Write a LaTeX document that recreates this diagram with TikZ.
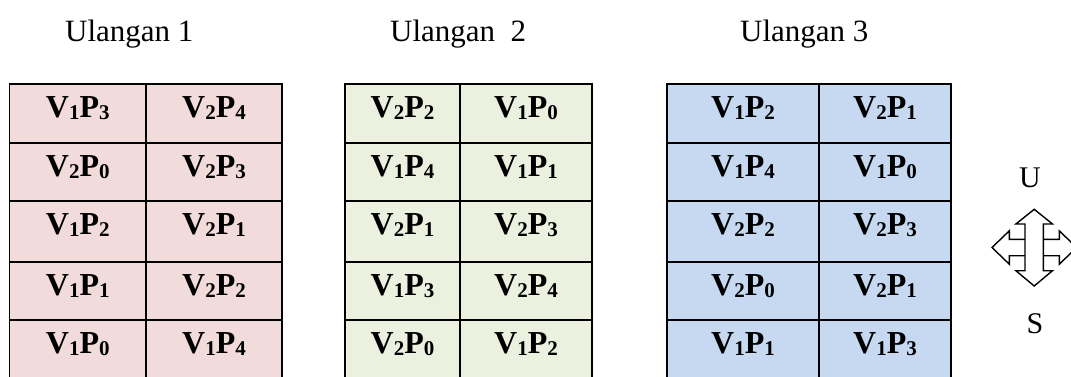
\documentclass[tikz,border=0pt]{standalone}
\usepackage{fontspec}
\setmainfont{Liberation Serif}
\definecolor{pinkfill}{HTML}{F2DCDB}
\definecolor{greenfill}{HTML}{EBF1DE}
\definecolor{bluefill}{HTML}{C6D9F1}

% lowered, smaller digit for the V/P labels
\newcommand\lowsub[1]{\raisebox{-2.6pt}{\fontsize{21}{21}\selectfont #1}}
\newcommand\vp[2]{V\lowsub{#1}P\lowsub{#2}}

% one row of a plot table: name, fill, x left/mid/right, y top/bottom, texts
\newcommand\cellrow[9]{%
  \node[cellbox, fill=#2, anchor=north west,
        minimum width={(#4-#3)*1pt}, minimum height={(#7-#6)*1pt}]
        (#1a) at (#3,#6) {};
  \node[cellbox, fill=#2, anchor=north west,
        minimum width={(#5-#4)*1pt}, minimum height={(#7-#6)*1pt}]
        (#1b) at (#4,#6) {};
  \node[celltext] (#1a-t) at ([yshift=-33pt]#1a.north) {#8};
  \node[celltext] (#1b-t) at ([yshift=-33pt]#1b.north) {#9};
}

\begin{document}
\begin{tikzpicture}[x=1pt,y=-1pt,
  cellbox/.style={draw=black, line width=1.7pt, rectangle, inner sep=0pt,
                  outer sep=0pt, line join=miter},
  celltext/.style={anchor=base, inner sep=0pt,
                   font=\fontsize{32}{32}\selectfont\bfseries},
  title/.style={anchor=base west, inner sep=0pt,
                font=\fontsize{31}{31}\selectfont},
  compass/.style={anchor=base, inner sep=0pt,
                  font=\fontsize{30}{30}\selectfont},
  arrowshape/.style={draw=black, fill=white, line width=1.4pt, line join=miter}]

\clip (0,0) rectangle (1071,376);

% titles
\node[title] (title1) at (65,41) {Ulangan 1};
\node[title] (title2) at (390,41) {Ulangan\ \ 2};
\node[title] (title3) at (740,41) {Ulangan 3};

% table 1
\cellrow{ta1}{pinkfill}{9.5}{146}{282}{84}{143}{\vp13}{\vp24}
\cellrow{ta2}{pinkfill}{9.5}{146}{282}{143}{201}{\vp20}{\vp23}
\cellrow{ta3}{pinkfill}{9.5}{146}{282}{201}{262}{\vp12}{\vp21}
\cellrow{ta4}{pinkfill}{9.5}{146}{282}{262}{320}{\vp11}{\vp22}
\cellrow{ta5}{pinkfill}{9.5}{146}{282}{320}{379}{\vp10}{\vp14}

% table 2
\cellrow{tb1}{greenfill}{345}{460}{592}{84}{143}{\vp22}{\vp10}
\cellrow{tb2}{greenfill}{345}{460}{592}{143}{201}{\vp14}{\vp11}
\cellrow{tb3}{greenfill}{345}{460}{592}{201}{262}{\vp21}{\vp23}
\cellrow{tb4}{greenfill}{345}{460}{592}{262}{320}{\vp13}{\vp24}
\cellrow{tb5}{greenfill}{345}{460}{592}{320}{379}{\vp20}{\vp12}

% table 3
\cellrow{tc1}{bluefill}{667}{819}{951}{84}{143}{\vp12}{\vp21}
\cellrow{tc2}{bluefill}{667}{819}{951}{143}{201}{\vp14}{\vp10}
\cellrow{tc3}{bluefill}{667}{819}{951}{201}{262}{\vp22}{\vp23}
\cellrow{tc4}{bluefill}{667}{819}{951}{262}{320}{\vp20}{\vp21}
\cellrow{tc5}{bluefill}{667}{819}{951}{320}{379}{\vp11}{\vp13}

% compass
\node[compass] (north) at (1030,187) {U};
\node[compass] (south) at (1035,333) {S};

% east-west double arrow
\draw[arrowshape] (992,247.5) -- (1009.3,230.8) -- (1009.3,239.3) -- (1059.3,239.3)
  -- (1059.3,230.8) -- (1076.6,247.5) -- (1059.3,264.2) -- (1059.3,255.7)
  -- (1009.3,255.7) -- (1009.3,264.2) -- cycle;
% north-south double arrow
\draw[arrowshape] (1034.2,209.3) -- (1052.5,224) -- (1043.4,224) -- (1043.4,270.7)
  -- (1052.5,270.7) -- (1034.2,286) -- (1015.9,270.7) -- (1025,270.7)
  -- (1025,224) -- (1015.9,224) -- cycle;
\end{tikzpicture}
\end{document}
